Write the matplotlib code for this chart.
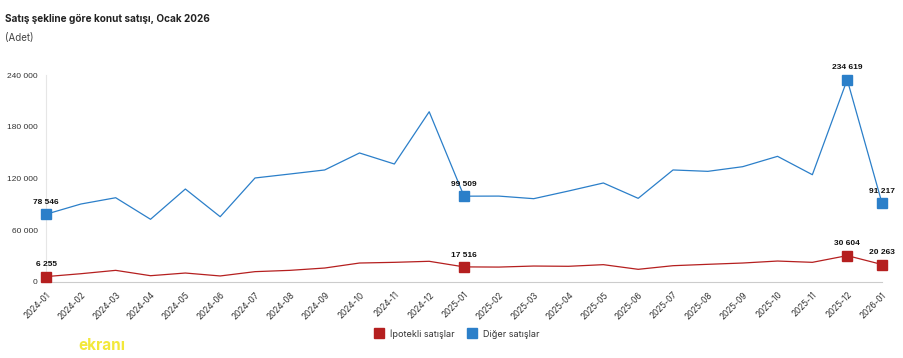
import matplotlib
matplotlib.use("Agg")
import matplotlib.pyplot as plt
from matplotlib.lines import Line2D

plt.rcParams['font.family'] = ['Inter', 'DejaVu Sans']

months = ["2024-01", "2024-02", "2024-03", "2024-04", "2024-05", "2024-06",
          "2024-07", "2024-08", "2024-09", "2024-10", "2024-11", "2024-12",
          "2025-01", "2025-02", "2025-03", "2025-04", "2025-05", "2025-06",
          "2025-07", "2025-08", "2025-09", "2025-10", "2025-11", "2025-12",
          "2026-01"]
ipotekli = [6255, 9600, 13500, 7300, 10400, 7000, 12000, 13500, 16200, 22000,
            22800, 24000, 17516, 17300, 18500, 18200, 20100, 14700, 18900,
            20500, 22000, 24300, 22800, 30604, 20263]
diger = [78546, 90400, 97700, 72700, 107800, 75700, 120600, 125200, 129900,
         149600, 136800, 197400, 99509, 99600, 96600, 105500, 114800, 97000,
         129900, 128300, 133700, 145700, 124400, 234619, 91217]
labeled = [0, 12, 23, 24]
yticks = [0, 60000, 120000, 180000, 240000]

red = "#b51f1f"
blue = "#2b7fc9"

fig = plt.figure(figsize=(9.04, 3.58), dpi=100)
ax = fig.add_axes([0.0509, 0.2123, 0.9248, 0.5782])

x = list(range(len(months)))
ax.plot(x, diger, color=blue, lw=0.9, zorder=3)
ax.plot(x, ipotekli, color=red, lw=0.9, zorder=3)
for i in labeled:
    ax.plot(i, diger[i], marker="s", ms=7.5, color=blue, clip_on=False, zorder=4)
    ax.plot(i, ipotekli[i], marker="s", ms=7.5, color=red, clip_on=False, zorder=4)
    for v in (diger[i], ipotekli[i]):
        ax.annotate(f"{v:,}".replace(",", " "), (i, v), xytext=(0, 6),
                    textcoords="offset points", ha="center", va="bottom",
                    fontsize=6, fontweight="bold", color="#111111",
                    family="Liberation Sans")

ax.set_xlim(0, len(months) - 1)
ax.set_ylim(0, 240000)
ax.set_yticks(yticks)
ax.set_yticklabels([f"{v:,}".replace(",", " ") for v in yticks],
                   fontsize=6, color="#333333", family="Liberation Sans")
ax.set_xticks(x)
ax.set_xticklabels(months, rotation=45, ha="right", rotation_mode="anchor",
                   fontsize=6, color="#333333")
ax.tick_params(length=0, pad=6)
for s in ["top", "right"]:
    ax.spines[s].set_visible(False)
ax.spines["left"].set_color("#e6e6e6")
ax.spines["left"].set_linewidth(0.8)
ax.spines["bottom"].set_color("#cccccc")
ax.spines["bottom"].set_linewidth(0.8)

fig.text(0.006, 0.948, "Satış şekline göre konut satışı, Ocak 2026",
         fontsize=7.2, fontweight="bold", color="#222222", va="center")
fig.text(0.006, 0.895, "(Adet)", fontsize=7, color="#444444", va="center")

handles = [Line2D([], [], marker="s", ls="", color=red, ms=7.5),
           Line2D([], [], marker="s", ls="", color=blue, ms=7.5)]
fig.legend(handles, ["İpotekli satışlar", "Diğer satışlar"], loc="center",
           bbox_to_anchor=(0.503, 0.068), ncol=2, frameon=False, fontsize=6.5,
           handletextpad=0.2, columnspacing=1.0, labelcolor="#333333")

fig.text(0.087, 0.035, "ekranı", fontsize=11, fontweight="bold",
         color="#f3e83a", va="center")

fig.savefig("out.png", dpi=100, facecolor="white")
